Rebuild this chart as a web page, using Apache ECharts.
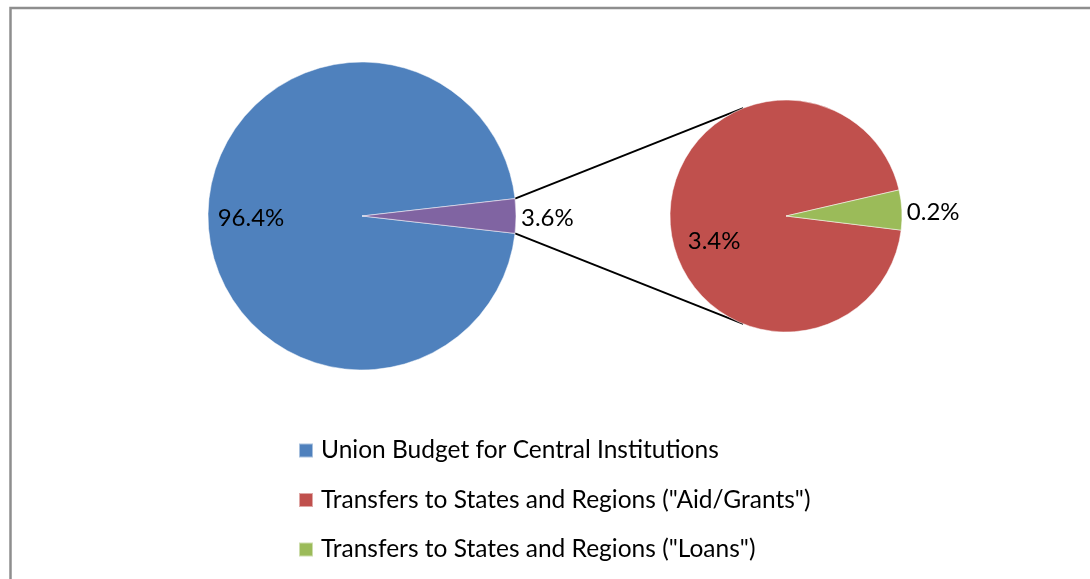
<!DOCTYPE html>
<html>
<head>
<meta charset="utf-8">
<title>Budget split</title>
<script src="https://cdn.jsdelivr.net/npm/echarts@6/dist/echarts.min.js"></script>
<style>
  html, body { margin: 0; padding: 0; background: #fff; }
  #chart { width: 1090px; height: 579px; }
</style>
</head>
<body>
<div id="chart"></div>
<script>
// main pie: central budget vs. all transfers
const mainNames = ["Union Budget for Central Institutions", "Transfers to States and Regions"];
const mainShares = [96.4, 3.6];
// breakdown of the transfers slice
const transferNames = ['Transfers to States and Regions ("Aid/Grants")', 'Transfers to States and Regions ("Loans")'];
const transferShares = [3.4, 0.2];

const colors = ["#4f81bd", "#8064a2", "#c0504d", "#9bbb59"];
const font = "Lato";

// layout of the two pies (pixels)
const bigC = [362, 216], bigR = 154;
const smallC = [786, 216], smallR = 116;

const sum = (a) => a.reduce((s, v) => s + v, 0);
// angle (deg) of the last slice, so it can be centred on the right side
const mainLast = mainShares[1] / sum(mainShares) * 360;
const transLast = transferShares[1] / sum(transferShares) * 360;

// connector lines: from edges of the split slice, tangent to the small pie
function connectors() {
  const half = mainLast / 2 * Math.PI / 180;
  const lines = [];
  [-1, 1].forEach(function (s) {
    const p = [bigC[0] + bigR * Math.cos(half), bigC[1] + s * bigR * Math.sin(half)];
    const dx = p[0] - smallC[0], dy = p[1] - smallC[1];
    const d = Math.sqrt(dx * dx + dy * dy);
    const a = Math.atan2(dy, dx) - s * Math.acos(smallR / d);
    const t = [smallC[0] + smallR * Math.cos(a), smallC[1] + smallR * Math.sin(a)];
    lines.push({
      type: "line",
      shape: { x1: p[0], y1: p[1], x2: t[0], y2: t[1] },
      style: { stroke: "#000", lineWidth: 2 },
      silent: true,
    });
  });
  return lines;
}

const labelBase = {
  color: "#000",
  fontFamily: font,
  fontSize: 24,
  formatter: (p) => p.value + "%",
};

const chart = echarts.init(document.getElementById("chart"));
chart.setOption({
  animation: false,
  textStyle: { fontFamily: font },
  legend: {
    orient: "vertical",
    left: 298,
    top: 438,
    padding: 0,
    icon: "rect",
    itemWidth: 14,
    itemHeight: 14,
    itemGap: 24.5,
    selectedMode: false,
    data: [mainNames[0], transferNames[0], transferNames[1]],
    textStyle: { fontFamily: font, fontSize: 24.5, lineHeight: 24, color: "#000", padding: [0, 0, 0, 3] },
  },
  graphic: [
    {
      type: "rect",
      shape: { x: 10.5, y: 8, width: 1200, height: 700 },
      style: { fill: null, stroke: "#8e8e8e", lineWidth: 2.5 },
      silent: true,
    },
  ].concat(connectors()),
  series: [
    {
      type: "pie",
      center: bigC,
      radius: bigR,
      startAngle: -mainLast / 2,
      avoidLabelOverlap: false,
      emphasis: { disabled: true },
      itemStyle: { borderColor: "rgba(255,255,255,0.5)", borderWidth: 1 },
      labelLine: { show: false, length: 0, length2: 0 },
      data: [
        {
          name: mainNames[0],
          value: mainShares[0],
          itemStyle: { color: colors[0] },
          label: Object.assign({}, labelBase, { position: "inside", offset: [-31, 2] }),
        },
        {
          name: mainNames[1],
          value: mainShares[1],
          itemStyle: { color: colors[1] },
          label: Object.assign({}, labelBase, { position: "outside", offset: [0, 2] }),
        },
      ],
    },
    {
      type: "pie",
      center: smallC,
      radius: smallR,
      // the small slice sits slightly above the horizontal in the original
      startAngle: -transLast / 2 + 3,
      avoidLabelOverlap: false,
      emphasis: { disabled: true },
      itemStyle: { borderColor: "rgba(255,255,255,0.5)", borderWidth: 1 },
      labelLine: { show: false, length: 0, length2: 0 },
      data: [
        {
          name: transferNames[0],
          value: transferShares[0],
          itemStyle: { color: colors[2] },
          label: Object.assign({}, labelBase, { position: "inside", offset: [-11, 22] }),
        },
        {
          name: transferNames[1],
          value: transferShares[1],
          itemStyle: { color: colors[3] },
          label: Object.assign({}, labelBase, { position: "outside", offset: [0, 2] }),
        },
      ],
    },
  ],
});
</script>
</body>
</html>
